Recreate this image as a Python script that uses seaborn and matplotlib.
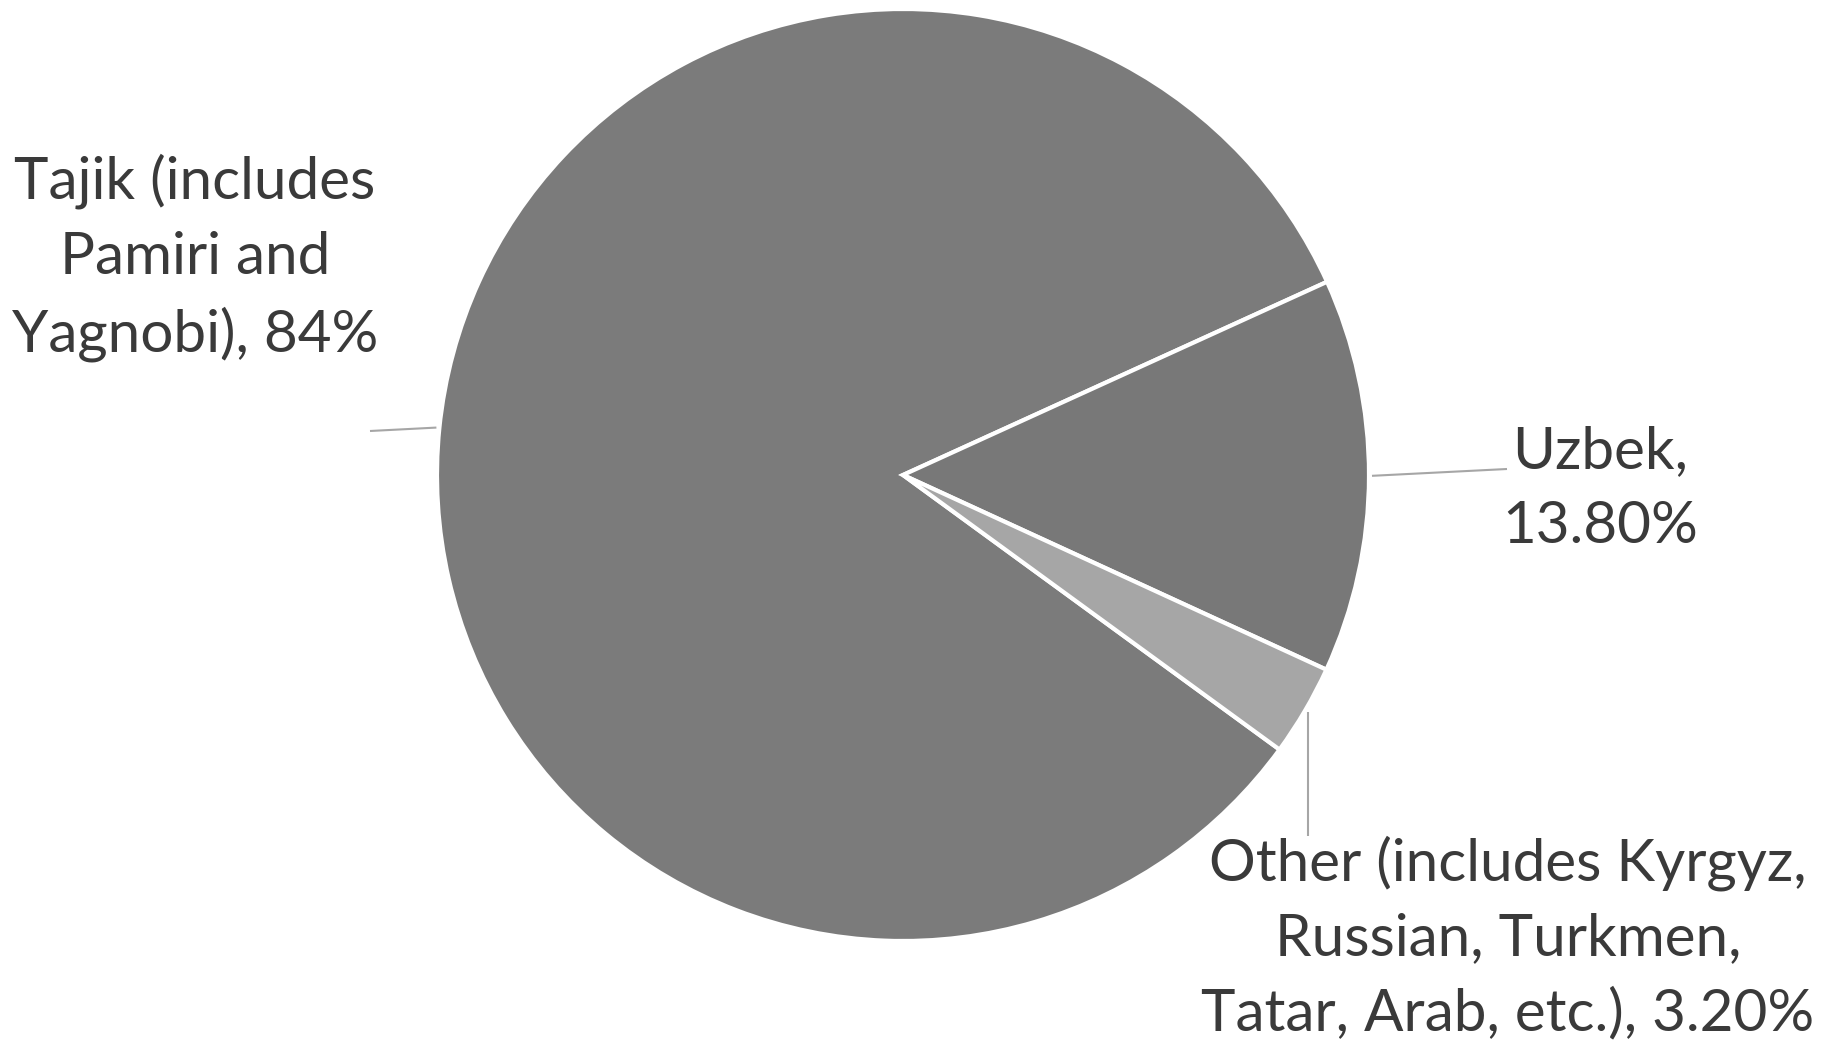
import matplotlib
matplotlib.use("Agg")
import matplotlib.pyplot as plt
import seaborn as sns
import numpy as np

sns.set_theme(style="white")
plt.rcParams['font.family'] = ['Lato', 'DejaVu Sans']

# data
categories = ["Tajik (includes\nPamiri and\nYagnobi), 84%",
              "Uzbek,\n13.80%",
              "Other (includes Kyrgyz,\nRussian, Turkmen,\nTatar, Arab, etc.), 3.20%"]
values = [84.0, 13.8, 3.2]
colors = ["#7b7b7b", "#787878", "#a6a6a6"]

W, H = 1833, 1044
fig = plt.figure(figsize=(W / 100, H / 100), dpi=100)
ax = fig.add_axes([0, 0, 1, 1])

cx, cy, R = 903, H - 475, 466
wedges, _ = ax.pie(values, startangle=323.9, counterclock=False, colors=colors,
                   center=(cx, cy), radius=R, frame=True,
                   wedgeprops=dict(edgecolor='white', linewidth=3))
ax.set_xlim(0, W)
ax.set_ylim(0, H)
ax.set_aspect('equal')
ax.axis('off')

# label positions (layout) and leader ends
label_pos = [(195, H - 258), (1600, H - 489), (1508, H - 938)]
leader_end = [(370, H - 431), (1507, H - 469), (1306, H - 836)]

txt_color = "#3a3a3a"
for w, lab, (lx, ly), (ex, ey) in zip(wedges, categories, label_pos, leader_end):
    mid = np.deg2rad((w.theta1 + w.theta2) / 2)
    sx, sy = cx + (R + 3) * np.cos(mid), cy + (R + 3) * np.sin(mid)
    if lab.startswith("Other"):
        ax.plot([sx, sx], [sy, ey], color="#a6a6a6", lw=1.5, solid_capstyle='butt')
    else:
        ax.plot([sx, ex], [sy, ey], color="#a6a6a6", lw=1.5, solid_capstyle='butt')
    ax.text(lx, ly, lab, ha='center', va='center', multialignment='center',
            fontsize=42, color=txt_color, linespacing=1.5)

fig.savefig("out.png", dpi=100, facecolor='white')
